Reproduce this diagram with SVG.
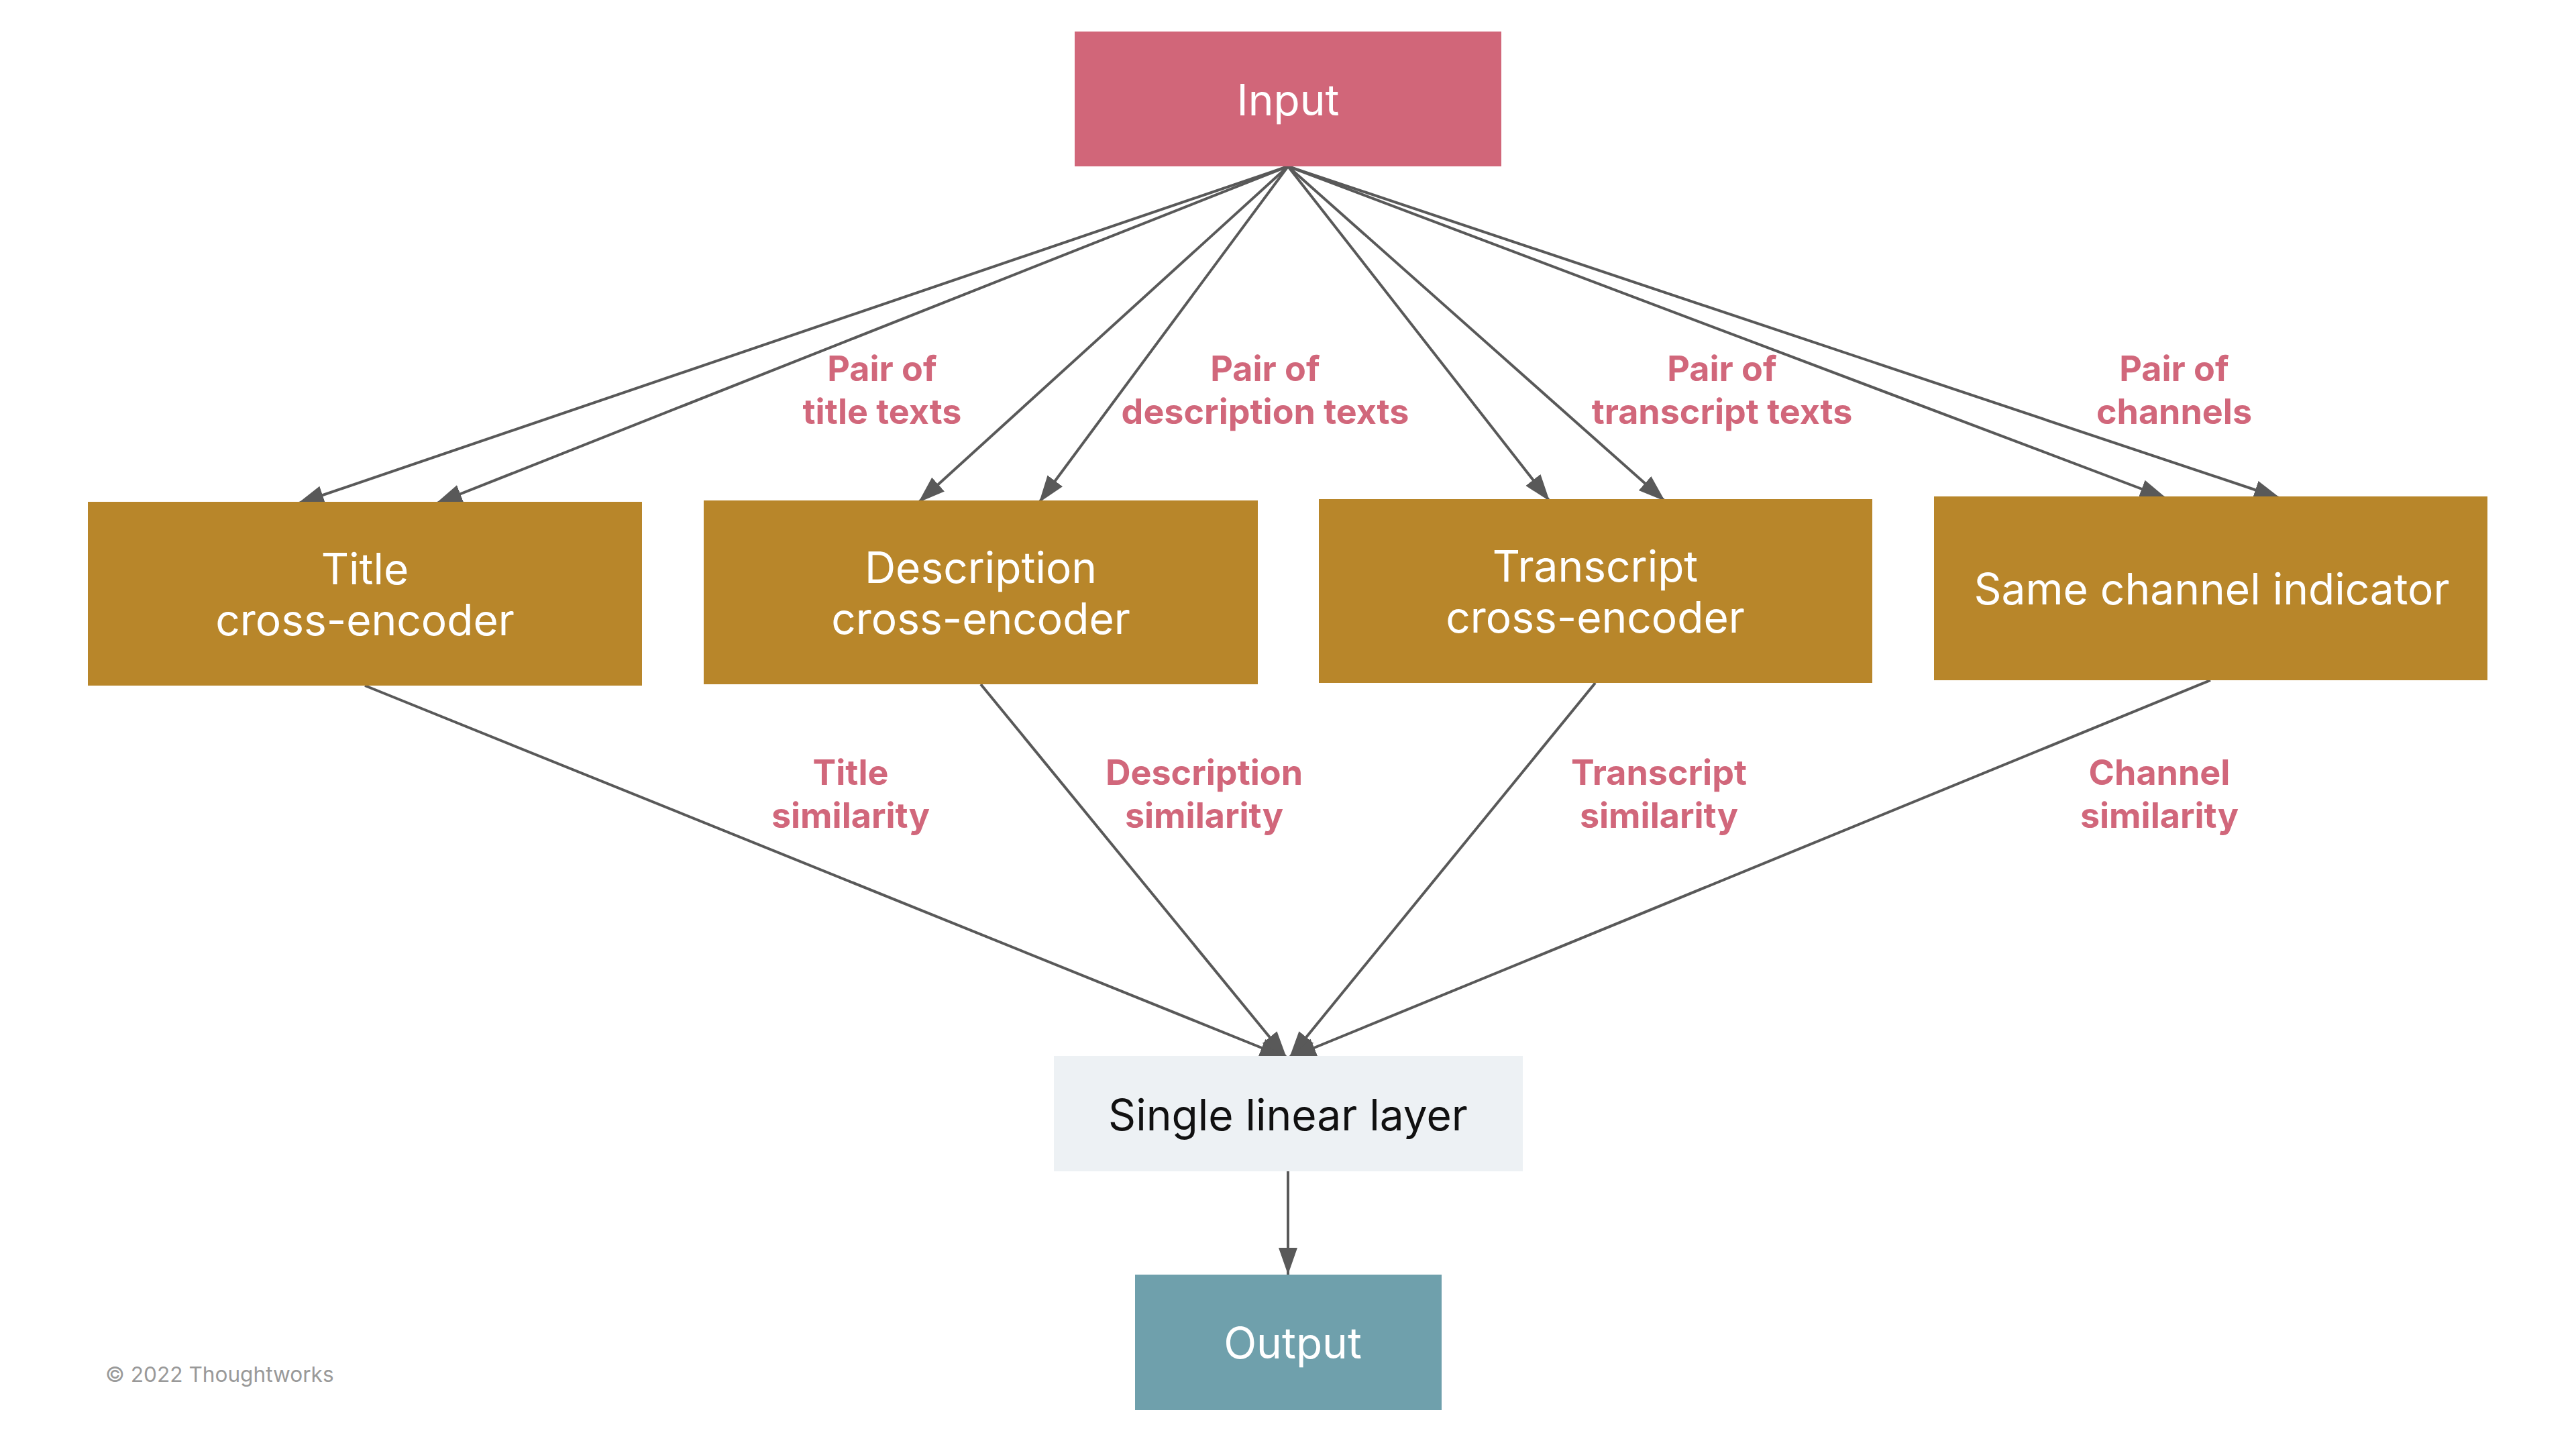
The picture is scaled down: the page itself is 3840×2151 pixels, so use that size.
<svg xmlns="http://www.w3.org/2000/svg" width="3840" height="2151" viewBox="0 0 3840 2151">
<defs>
<marker id="arrow" markerUnits="userSpaceOnUse" markerWidth="42" markerHeight="32" refX="40" refY="14" orient="auto">
<path d="M0,0 L40,14 L0,28 z" fill="#595959"/>
</marker>
<style>
.edge{stroke:#595959;stroke-width:4;fill:none;marker-end:url(#arrow)}
.node-text{font-family:Inter,"Noto Sans","Liberation Sans",sans-serif;font-size:64px;fill:#ffffff;text-anchor:middle}
.lbl{font-family:Inter,"Noto Sans","Liberation Sans",sans-serif;font-size:52px;font-weight:700;fill:#d1677b;text-anchor:middle}
.gold{fill:#b8862a}
</style>
</defs>
<rect width="3840" height="2151" fill="#ffffff"/>
<g id="connectors">
<line class="edge" x1="1920" y1="248" x2="443" y2="751"/>
<line class="edge" x1="1920" y1="248" x2="649" y2="751"/>
<line class="edge" x1="1920" y1="248" x2="1369" y2="749"/>
<line class="edge" x1="1920" y1="248" x2="1549" y2="749"/>
<line class="edge" x1="1920" y1="248" x2="2310" y2="747"/>
<line class="edge" x1="1920" y1="248" x2="2482" y2="747"/>
<line class="edge" x1="1920" y1="248" x2="3230" y2="743"/>
<line class="edge" x1="1920" y1="248" x2="3400" y2="743"/>
<line class="edge" x1="544" y1="1022" x2="1918" y2="1577"/>
<line class="edge" x1="1462" y1="1020" x2="1918" y2="1577"/>
<line class="edge" x1="2378" y1="1018" x2="1922" y2="1577"/>
<line class="edge" x1="3295" y1="1014" x2="1922" y2="1577"/>
<line class="edge" x1="1920" y1="1746" x2="1920" y2="1900"/>
</g>
<g id="edge-labels">
<text class="lbl" x="1315" y="568">Pair of</text>
<text class="lbl" x="1315" y="632">title texts</text>
<text class="lbl" x="1886" y="568">Pair of</text>
<text class="lbl" x="1886" y="632">description texts</text>
<text class="lbl" x="2567" y="568">Pair of</text>
<text class="lbl" x="2567" y="632">transcript texts</text>
<text class="lbl" x="3241" y="568">Pair of</text>
<text class="lbl" x="3241" y="632">channels</text>
<text class="lbl" x="1268" y="1170">Title</text>
<text class="lbl" x="1268" y="1234">similarity</text>
<text class="lbl" x="1795" y="1170">Description</text>
<text class="lbl" x="1795" y="1234">similarity</text>
<text class="lbl" x="2473" y="1170">Transcript</text>
<text class="lbl" x="2473" y="1234">similarity</text>
<text class="lbl" x="3219" y="1170">Channel</text>
<text class="lbl" x="3219" y="1234">similarity</text>
</g>
<g id="node-input">
<rect x="1602" y="47" width="636" height="201" fill="#d16679"/>
<text class="node-text" x="1920" y="172">Input</text>
</g>
<g id="node-title">
<rect class="gold" x="131" y="748" width="826" height="274"/>
<text class="node-text" x="544" y="871">Title</text>
<text class="node-text" x="544" y="947">cross-encoder</text>
</g>
<g id="node-description">
<rect class="gold" x="1049" y="746" width="826" height="274"/>
<text class="node-text" x="1462" y="869">Description</text>
<text class="node-text" x="1462" y="945">cross-encoder</text>
</g>
<g id="node-transcript">
<rect class="gold" x="1966" y="744" width="825" height="274"/>
<text class="node-text" x="2378" y="867">Transcript</text>
<text class="node-text" x="2378" y="943">cross-encoder</text>
</g>
<g id="node-channel">
<rect class="gold" x="2883" y="740" width="825" height="274"/>
<text class="node-text" x="3297" y="901">Same channel indicator</text>
</g>
<g id="node-linear">
<rect x="1571" y="1574" width="699" height="172" fill="#edf1f4"/>
<text class="node-text" x="1920" y="1685" style="fill:#111111">Single linear layer</text>
</g>
<g id="node-output">
<rect x="1692" y="1900" width="457" height="202" fill="#6fa0ac"/>
<text class="node-text" x="1927" y="2025">Output</text>
</g>
<text x="157" y="2060" font-family="Inter,'Noto Sans','Liberation Sans',sans-serif" font-size="31.6" fill="#999999">© 2022 Thoughtworks</text>
</svg>
